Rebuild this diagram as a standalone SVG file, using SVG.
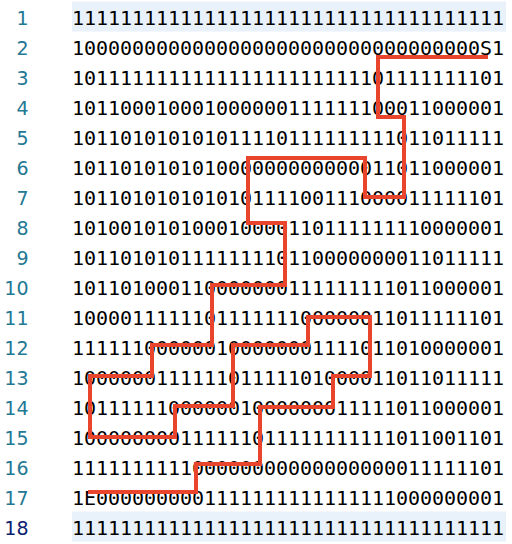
<svg xmlns="http://www.w3.org/2000/svg" width="512" height="544" viewBox="0 0 512 544">
<style>
.code{font-family:"DejaVu Sans Mono","Liberation Mono",monospace;font-size:20px;fill:#000}
.ln{font-family:"DejaVu Sans","Liberation Sans",sans-serif;font-size:19px;fill:#237893;text-anchor:end}
.ln.cur{fill:#0b216f}
.hl{fill:#e9f2fb}
.route{fill:none;stroke:#e8452c;stroke-width:4;stroke-linejoin:miter;stroke-linecap:square}
</style>
<rect width="512" height="544" fill="#ffffff"/>
<g id="highlights">
<rect class="hl" x="72" y="1.5" width="434" height="30"/>
<rect class="hl" x="72" y="511.5" width="434" height="30"/>
</g>
<g id="line-numbers">
<text class="ln" x="28.5" y="25">1</text>
<text class="ln" x="28.5" y="55">2</text>
<text class="ln" x="28.5" y="85">3</text>
<text class="ln" x="28.5" y="115">4</text>
<text class="ln" x="28.5" y="145">5</text>
<text class="ln" x="28.5" y="175">6</text>
<text class="ln" x="28.5" y="205">7</text>
<text class="ln" x="28.5" y="235">8</text>
<text class="ln" x="28.5" y="265">9</text>
<text class="ln" x="28.5" y="295">10</text>
<text class="ln" x="28.5" y="325">11</text>
<text class="ln" x="28.5" y="355">12</text>
<text class="ln" x="28.5" y="385">13</text>
<text class="ln" x="28.5" y="415">14</text>
<text class="ln" x="28.5" y="445">15</text>
<text class="ln" x="28.5" y="475">16</text>
<text class="ln" x="28.5" y="505">17</text>
<text class="ln cur" x="28.5" y="535">18</text>
</g>
<g id="code">
<text class="code" x="72" y="25" textLength="432" lengthAdjust="spacing">111111111111111111111111111111111111</text>
<text class="code" x="72" y="55" textLength="432" lengthAdjust="spacing">1000000000000000000000000000000000S1</text>
<text class="code" x="72" y="85" textLength="432" lengthAdjust="spacing">101111111111111111111111101111111101</text>
<text class="code" x="72" y="115" textLength="432" lengthAdjust="spacing">101100010001000000111111100011000001</text>
<text class="code" x="72" y="145" textLength="432" lengthAdjust="spacing">101101010101011110111111111011011111</text>
<text class="code" x="72" y="175" textLength="432" lengthAdjust="spacing">101101010101000000000000011011000001</text>
<text class="code" x="72" y="205" textLength="432" lengthAdjust="spacing">101101010101010111100111000011111101</text>
<text class="code" x="72" y="235" textLength="432" lengthAdjust="spacing">101001010100010000110111111110000001</text>
<text class="code" x="72" y="265" textLength="432" lengthAdjust="spacing">101101010111111110110000000011011111</text>
<text class="code" x="72" y="295" textLength="432" lengthAdjust="spacing">101101000110000000111111111011000001</text>
<text class="code" x="72" y="325" textLength="432" lengthAdjust="spacing">100001111110111111100000011011111101</text>
<text class="code" x="72" y="355" textLength="432" lengthAdjust="spacing">111111000000100000001111011010000001</text>
<text class="code" x="72" y="385" textLength="432" lengthAdjust="spacing">100000011111101111101000011011011111</text>
<text class="code" x="72" y="415" textLength="432" lengthAdjust="spacing">101111110000001000000011111011000001</text>
<text class="code" x="72" y="445" textLength="432" lengthAdjust="spacing">100000000111111011111111111011001101</text>
<text class="code" x="72" y="475" textLength="432" lengthAdjust="spacing">111111111100000000000000000011111101</text>
<text class="code" x="72" y="505" textLength="432" lengthAdjust="spacing">1E0000000001111111111111111000000001</text>
<text class="code" x="72" y="535" textLength="432" lengthAdjust="spacing">111111111111111111111111111111111111</text>
</g>
<g id="connectors">
<path class="route" d="M486,57 H378 V117 H404 V197 H365 V158 H248 V223 H285 V285 H212 V345 H152 V376 H90 V437 H175 V406 H233 V345 H308 V317 H370 V376 H333 V407 H260 V464 H196 V492 H90"/>
</g>
</svg>
